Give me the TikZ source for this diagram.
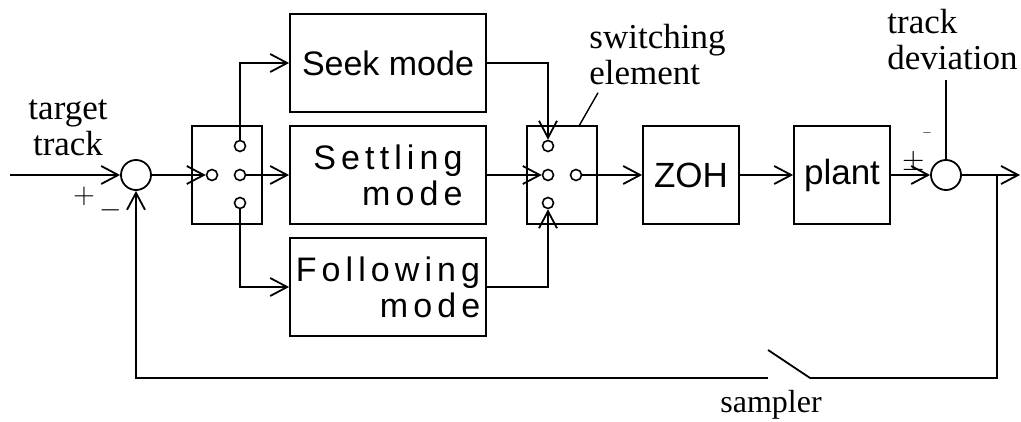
\documentclass[tikz,border=0pt]{standalone}
\usepackage{fontspec}
\setmainfont{Liberation Serif}
\setsansfont{Liberation Sans}
\newfontfamily\widesans[LetterSpace=15]{Liberation Sans}
\usetikzlibrary{arrows.meta, positioning}
\tikzset{
  modebox/.style={rectangle, draw=black, line width=0.9pt, minimum width=98pt,
                  minimum height=49pt, inner sep=1pt, align=right,
                  font=\widesans\fontsize{17}{18}\selectfont},
  switchbox/.style={rectangle, draw=black, line width=0.9pt, minimum width=35pt,
                    minimum height=49pt},
  unitbox/.style={rectangle, draw=black, line width=0.9pt, minimum width=48pt,
                  minimum height=49pt, inner sep=1pt,
                  font=\sffamily\fontsize{17.5}{18}\selectfont},
  sumnode/.style={circle, draw=black, line width=0.9pt, minimum size=15pt, inner sep=0pt},
  port/.style={circle, draw=black, line width=0.8pt, minimum size=5.5pt, inner sep=0pt},
  arrow/.style={-{Straight Barb[length=8.5pt, width=9pt, line width=0.9pt]}, line width=0.9pt},
  wire/.style={line width=0.9pt},
  note/.style={font=\fontsize{17.5}{18}\selectfont, inner sep=0pt},
  signtext/.style={font=\fontsize{15}{15}\selectfont, inner sep=0pt},
}
\begin{document}
\begin{tikzpicture}[x=0.5pt, y=-0.5pt]
  \useasboundingbox (0,0) rectangle (1021,422);

  % Nodes
  \node[sumnode] (sum1) at (136,175) {};
  \node[switchbox] (demux) at (227,175) {};
  \node[port] (dmin) at (212,175) {};
  \node[port] (dmtop) at (240,146) {};
  \node[port] (dmmid) at (240,175) {};
  \node[port] (dmbot) at (240,203) {};

  \node[modebox, font=\sffamily\fontsize{17}{18}\selectfont] (seek) at (388,63) {Seek mode};
  \node[modebox] (settle) at (388,175) {Settling\\mode};
  \node[modebox] (follow) at (388,287) {Following\\mode};

  \node[switchbox] (mux) at (562,175) {};
  \node[port] (mxtop) at (548,146) {};
  \node[port] (mxmid) at (548,175) {};
  \node[port] (mxbot) at (548,203) {};
  \node[port] (mxout) at (576,175) {};

  \node[unitbox] (zoh) at (691,175) {ZOH};
  \node[unitbox] (plant) at (842,175) {plant};
  \node[sumnode] (sum2) at (946,175) {};

  \coordinate (in) at (10,175);
  \coordinate (out) at (1020,175);
  \coordinate (tap) at (997,175);
  \coordinate (sampL) at (768,378);
  \coordinate (sampR) at (810,378);
  \coordinate (blade) at (768,350);
  \coordinate (lead) at (579,126);
  \coordinate (devtop) at (946,80);

  % Labels
  \node[note, align=center] (target) at (68,128) {target\\track};
  \node[note, align=left, anchor=west] (swlabel) at (589,55) {switching\\element};
  \node[note, align=left, anchor=west] (devlabel) at (887,40) {track\\deviation};
  \node[note, font=\fontsize{16}{16}\selectfont] (samplabel) at (771,405) {sampler};
  \node[signtext] (p1) at (84,196) {$+$};
  \node[signtext] (m1) at (111,210) {$-$};
  \node[signtext] (p2) at (914,163) {$\pm$};
  \node[signtext, font=\tiny] (m2) at (927,133) {$-$};

  % Edges
  \draw[arrow] (in) -- (sum1);
  \draw[arrow] (sum1) -- (dmin);
  \draw[arrow] (dmmid) -- (settle);
  \draw[arrow] (dmtop) |- (seek);
  \draw[arrow] (dmbot) |- (follow);
  \draw[arrow] (seek) -| (mxtop);
  \draw[arrow] (settle) -- (mxmid);
  \draw[arrow] (follow) -| (mxbot);
  \draw[arrow] (mxout) -- (zoh);
  \draw[arrow] (zoh) -- (plant);
  \draw[arrow] (plant) -- (sum2);
  \draw[arrow] (sum2) -- (out);

  % Feedback through the sampler
  \draw[wire] (tap) |- (sampR) -- (blade);
  \draw[arrow] (sampL) -| (sum1);
  \draw[wire] (sum2) -- (devtop);
  \draw[wire, line width=0.7pt] (swlabel.south west) ++(9,7) -- (lead);

\end{tikzpicture}
\end{document}
